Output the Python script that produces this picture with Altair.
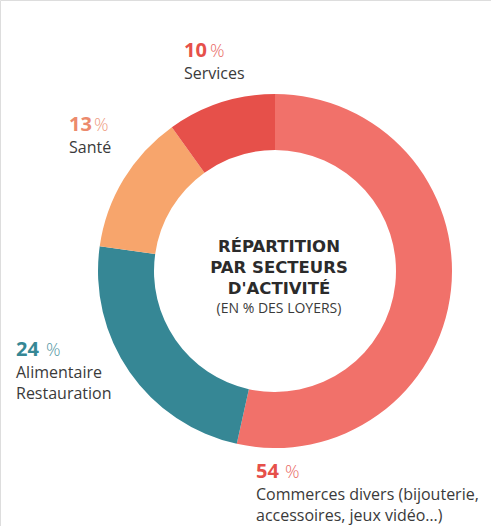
import altair as alt
import pandas as pd

# ---- data ----
categories = ["Commerces divers", "Alimentaire Restauration", "Santé", "Services"]
shares = [54, 24, 13, 10]
pct_labels = ["54", "24", "13", "10"]
name_lines = [
    ["Commerces divers (bijouterie,", "accessoires, jeux vidéo…)"],
    ["Alimentaire", "Restauration"],
    ["Santé"],
    ["Services"],
]
title_lines = ["RÉPARTITION", "PAR SECTEURS", "D'ACTIVITÉ"]
subtitle = "(EN % DES LOYERS)"

# ---- styles / layout ----
slice_colors = ["#F1716A", "#368795", "#F7A56C", "#E6504A"]
label_colors = ["#E6504A", "#368795", "#EC8A6C", "#E6504A"]
CX, CY = 275, 271
R_OUT, R_IN = 177, 121
W, H = 491, 526
# (x, baseline of the percentage line) for each label
label_anchor = [(256, 478), (16, 356), (69, 131), (184, 57)]
pct_dx = [29, 30, 25, 26]
LINE_H = 22
TITLE_X = 279
title_base = [252, 273, 294]
sub_base = 313

donut_df = pd.DataFrame({
    "cat": categories,
    "share": shares,
    "order": list(range(len(categories))),
})

arcs = alt.Chart(donut_df).mark_arc(
    outerRadius=R_OUT, innerRadius=R_IN, stroke=None
).encode(
    theta=alt.Theta("share:Q", stack=True),
    order=alt.Order("order:Q"),
    color=alt.Color("cat:N", scale=alt.Scale(domain=categories, range=slice_colors), legend=None),
    x=alt.value(CX),
    y=alt.value(CY),
)

num_rows, pct_rows, name_rows = [], [], []
for i in range(len(categories)):
    x0, y0 = label_anchor[i]
    num_rows.append({"x": x0, "y": y0, "t": pct_labels[i], "c": label_colors[i]})
    pct_rows.append({"x": x0 + pct_dx[i], "y": y0, "t": "%", "c": label_colors[i]})
    for j, line in enumerate(name_lines[i]):
        name_rows.append({"x": x0, "y": y0 + LINE_H * (j + 1) - (1 if j else 0), "t": line, "c": "#3A3A3A"})

def text_layer(rows, **kw):
    return alt.Chart(pd.DataFrame(rows)).mark_text(**kw).encode(
        x=alt.X("x:Q", scale=None, axis=None),
        y=alt.Y("y:Q", scale=None, axis=None),
        text="t:N",
        color=alt.Color("c:N", scale=None),
    )

nums = text_layer(num_rows, font="Open Sans", fontSize=20, fontWeight="bold",
                  align="left", baseline="alphabetic")
pcts = text_layer(pct_rows, font="Open Sans", fontSize=18, fontWeight=300,
                  align="left", baseline="alphabetic", opacity=0.85)
names = text_layer(name_rows, font="Open Sans", fontSize=16,
                   align="left", baseline="alphabetic")

title_rows = [{"x": TITLE_X, "y": b, "t": t, "c": "#2B2B2B"} for t, b in zip(title_lines, title_base)]
sub_rows = [{"x": TITLE_X, "y": sub_base, "t": subtitle, "c": "#3A3A3A"}]
titles = text_layer(title_rows, font="DejaVu Sans", fontSize=16.5, fontWeight="bold",
                    align="center", baseline="alphabetic")
subs = text_layer(sub_rows, font="Open Sans", fontSize=14,
                  align="center", baseline="alphabetic")

chart = alt.layer(arcs, nums, pcts, names, titles, subs).properties(
    width=W, height=H, padding=0, autosize=alt.AutoSizeParams(type="none")
).configure_view(stroke=None).configure(background="white")

chart.save("out.html", embed_options={"renderer": "svg", "actions": False})
